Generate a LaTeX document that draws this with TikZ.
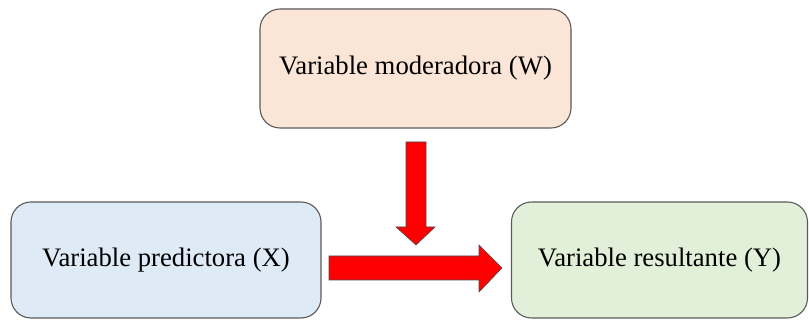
\documentclass[tikz,border=0pt]{standalone}
\usepackage{fontspec}
\setmainfont{Liberation Serif}
\usetikzlibrary{calc}
\definecolor{peach}{HTML}{FBE5D6}
\definecolor{lblue}{HTML}{DEEBF7}
\definecolor{lgreen}{HTML}{E2F0D9}
\definecolor{edge}{HTML}{5A5A5A}
\begin{document}
\begin{tikzpicture}[x=1pt,y=1pt,
  box/.style={draw=edge,line width=1.1pt,rounded corners=20pt,inner sep=0pt,
    font=\fontsize{26.7}{30}\selectfont},
  blockarrow/.style={fill=red,draw=black!70,line width=0.6pt,line join=miter}]
\useasboundingbox (0,0) rectangle (809,320);
\node[box,fill=peach,minimum width=311pt,minimum height=119pt] (W) at (415.5,251.5) {Variable moderadora (W)};
\node[box,fill=lblue,minimum width=310pt,minimum height=116pt] (X) at (166,60) {Variable predictora (X)};
\node[box,fill=lgreen,minimum width=296pt,minimum height=116pt] (Y) at (659.5,60) {Variable resultante (Y)};
\coordinate (vt) at (416,178);
\coordinate (vtip) at (416,75);
\draw[blockarrow] ($(vt)+(-10,0)$) -- ($(vt)+(10,0)$) -- (426,93) -- (435,93) -- (vtip) -- (396,93) -- (406,93) -- cycle;
\draw[blockarrow] (329,64) -- (479,64) -- (479,75) -- (502,52) -- (479,28) -- (479,40) -- (329,40) -- cycle;
\end{tikzpicture}
\end{document}
